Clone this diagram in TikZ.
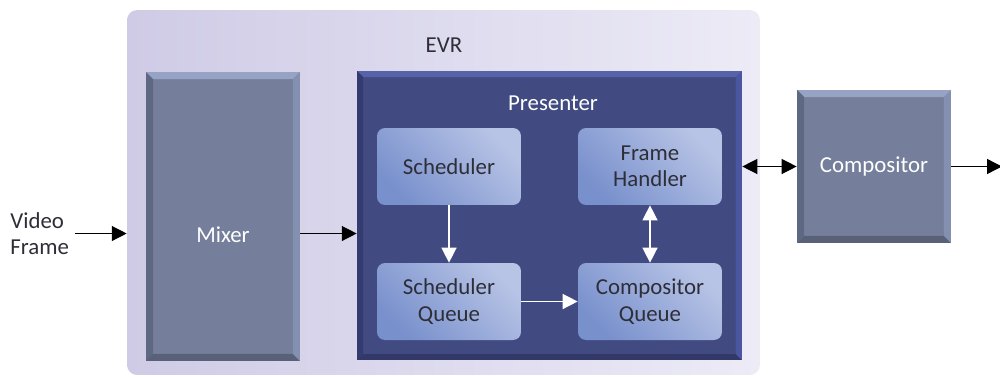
\documentclass[tikz,border=0pt]{standalone}
\usepackage{fontspec}
\setmainfont{Carlito}
\usetikzlibrary{arrows.meta}

\definecolor{evrleft}{HTML}{CFCBE6}
\definecolor{evrright}{HTML}{ECEBF6}
\definecolor{mixface}{HTML}{757F9B}
\definecolor{mixtop}{HTML}{97A3C4}
\definecolor{mixleft}{HTML}{5E6882}
\definecolor{mixbottom}{HTML}{596178}
\definecolor{mixright}{HTML}{8490B0}
\definecolor{presface}{HTML}{424B81}
\definecolor{prestop}{HTML}{5663A9}
\definecolor{presleft}{HTML}{343B70}
\definecolor{presbottom}{HTML}{323968}
\definecolor{presright}{HTML}{4B56A0}
\definecolor{boxdark}{HTML}{7890CC}
\definecolor{boxlight}{HTML}{B8C4E6}
\definecolor{darktext}{HTML}{2E2E38}

% bevel edges: top, left, bottom, right, width
\newcommand{\bevelfill}[5]{%
  \coordinate (bnw) at (path picture bounding box.north west);
  \coordinate (bne) at (path picture bounding box.north east);
  \coordinate (bsw) at (path picture bounding box.south west);
  \coordinate (bse) at (path picture bounding box.south east);
  \fill[#1] (bnw) -- (bne) -- ([shift={(-#5,-#5)}]bne) -- ([shift={(#5,-#5)}]bnw) -- cycle;
  \fill[#2] (bnw) -- ([shift={(#5,-#5)}]bnw) -- ([shift={(#5,#5)}]bsw) -- (bsw) -- cycle;
  \fill[#3] (bsw) -- (bse) -- ([shift={(-#5,#5)}]bse) -- ([shift={(#5,#5)}]bsw) -- cycle;
  \fill[#4] (bne) -- ([shift={(-#5,-#5)}]bne) -- ([shift={(-#5,#5)}]bse) -- (bse) -- cycle;
}

\begin{document}
\begin{tikzpicture}[auto, x=0.02cm, y=-0.02cm,
  >={Triangle[length=8.5pt,width=8.5pt]},
  font=\fontsize{13}{15}\selectfont]

%
% Styles
%
\tikzstyle{group} = [rectangle,rounded corners=0.2cm,left color=evrleft,right color=evrright,inner sep=0pt,minimum width=12.66cm,minimum height=7.3cm]
\tikzstyle{block} = [rectangle,fill=mixface,text=white,inner sep=0pt,path picture={\bevelfill{mixtop}{mixleft}{mixbottom}{mixright}{4pt}}]
\tikzstyle{frame} = [rectangle,fill=presface,inner sep=0pt,path picture={\bevelfill{prestop}{presleft}{presbottom}{presright}{3.4pt}}]
\tikzstyle{stage} = [rectangle,rounded corners=0.16cm,top color=boxlight,bottom color=boxdark,shading angle=-45,text=darktext,align=center,minimum width=2.88cm,minimum height=1.54cm]
\tikzstyle{flow} = [->,line width=0.75pt]
\tikzstyle{inner} = [->,white,line width=0.8pt]

\useasboundingbox (0,0) rectangle (1000,376);

\node[group] (evr) at (443.5,192.5) {};
\node[text=darktext] (evrlabel) at (444,45) {EVR};

\node[block,minimum width=3.08cm,minimum height=5.78cm] (mixer) at (223,216.5) {};
\node[text=white] (mixerlabel) at (223,235) {Mixer};

\node[frame,minimum width=7.7cm,minimum height=5.78cm] (presenter) at (549.5,215.5) {};
\node[text=white] (presenterlabel) at (553,103) {Presenter};

\node[block,minimum width=3.08cm,minimum height=3.06cm] (compositor) at (874,166.5) {Compositor};

\node[stage] (scheduler)    at (449,166.5) {Scheduler};
\node[stage] (framehandler) at (650,166.5) {Frame\\Handler};
\node[stage] (schedqueue)   at (449,301.5) {Scheduler\\Queue};
\node[stage] (compqueue)    at (650,301.5) {Compositor\\Queue};

\node[anchor=west,align=left,inner sep=0pt,text=darktext] (video) at (10,233.5) {Video\\Frame};
\coordinate (out) at (1002,166.5);

\draw[flow] ([xshift=3pt]video.east) -- (evr.west |- video);
\draw[flow] (mixer.east |- video) -- (presenter.west |- video);
\draw[flow,<->] (presenter.east |- compositor) -- (compositor.west);
\draw[flow] (compositor.east) -- (out);

\draw[inner] (scheduler) -- (schedqueue);
\draw[inner] (schedqueue) -- (compqueue);
\draw[inner,<->] (framehandler) -- (compqueue);

\end{tikzpicture}
\end{document}
